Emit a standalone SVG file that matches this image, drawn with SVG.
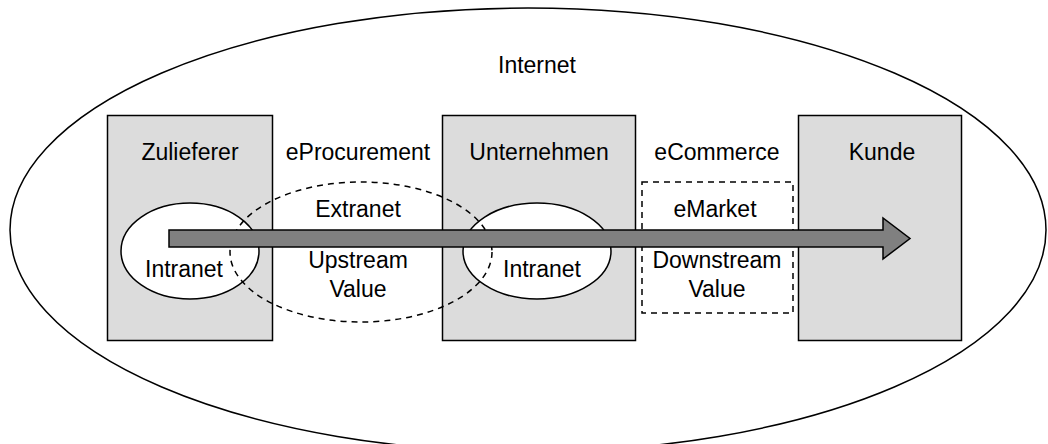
<svg xmlns="http://www.w3.org/2000/svg" width="1048" height="444" viewBox="0 0 1048 444">
<style>
text{font-family:"Liberation Sans",Arial,sans-serif;font-size:23px;fill:#000;text-anchor:middle}
.box{fill:#dcdcdc;stroke:#000;stroke-width:1.5}
.intra{fill:#fff;stroke:#000;stroke-width:1.5}
.dash{fill:none;stroke:#000;stroke-width:1.5;stroke-dasharray:6 5}
</style>
<g id="internet">
<ellipse cx="528" cy="230" rx="518" ry="222" fill="#fff" stroke="#000" stroke-width="1.5"/>
<text x="537" y="73">Internet</text>
</g>
<g id="zulieferer">
<rect class="box" x="107.5" y="115.5" width="165" height="225"/>
<text x="190" y="160">Zulieferer</text>
</g>
<g id="unternehmen">
<rect class="box" x="442.5" y="115.5" width="193" height="225"/>
<text x="539" y="160">Unternehmen</text>
</g>
<g id="kunde">
<rect class="box" x="798.5" y="115.5" width="163" height="225"/>
<text x="882" y="160">Kunde</text>
</g>
<g id="intranet1">
<ellipse class="intra" cx="190" cy="251" rx="69" ry="48"/>
<text x="184" y="277">Intranet</text>
</g>
<g id="intranet2">
<ellipse class="intra" cx="537" cy="251" rx="74" ry="48"/>
<text x="542" y="277">Intranet</text>
</g>
<g id="extranet">
<ellipse class="dash" cx="361" cy="252" rx="131" ry="70"/>
<text x="358" y="160">eProcurement</text>
<text x="358" y="217">Extranet</text>
<text x="358" y="268">Upstream</text>
<text x="358" y="297">Value</text>
</g>
<g id="emarket">
<rect class="dash" x="642" y="182" width="151" height="131"/>
<text x="717" y="160">eCommerce</text>
<text x="715" y="217">eMarket</text>
<text x="717" y="268">Downstream</text>
<text x="717" y="297">Value</text>
</g>
<g id="connectors">
<polygon points="169,230 883,230 883,218 910,238.5 883,259 883,247 169,247" fill="#808080" stroke="#000" stroke-width="1.5" stroke-linejoin="miter"/>
</g>
</svg>
